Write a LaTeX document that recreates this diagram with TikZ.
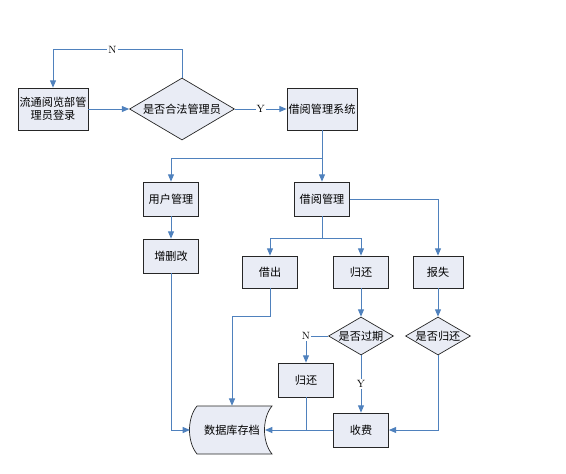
\documentclass[tikz,border=0pt]{standalone}
\usepackage{fontspec}
\newfontfamily\cjk{Noto Sans CJK SC}
\usetikzlibrary{arrows.meta, calc, shapes.geometric}
\definecolor{flowline}{HTML}{4F81BD}
\definecolor{boxfill}{HTML}{E9ECF5}

\begin{document}
\begin{tikzpicture}[x=0.03cm, y=-0.03cm, >={Triangle[length=2.2mm, width=1.8mm]},
  every node/.style={font=\cjk\fontsize{9.5pt}{11.5pt}\selectfont},
  box/.style={draw=black!85, fill=boxfill, line width=0.6pt, align=center, inner sep=1pt, minimum width=1.65cm, minimum height=1.02cm},
  decision/.style={diamond, shape aspect=1.7, draw=black!85, fill=boxfill, line width=0.6pt, inner sep=0pt, minimum width=1.95cm, minimum height=1.14cm},
  flow/.style={draw=flowline, line width=0.85pt},
  yn/.style={font=\rmfamily\fontsize{9pt}{10pt}\selectfont, fill=white, inner sep=1pt}]
  \useasboundingbox (0,0) rectangle (566,473);
  \node[box, minimum width=2.1cm, minimum height=1.26cm] (login) at (53,109) {流通阅览部管\\理员登录};
  \node[decision, minimum width=3.15cm, minimum height=1.86cm] (legal) at (182,109) {是否合法管理员};
  \node[box, minimum width=2.1cm, minimum height=1.26cm] (sys) at (322,109) {借阅管理系统};
  \node[box] (user) at (171,199) {用户管理};
  \node[box] (crud) at (171,256) {增删改};
  \node[box] (borrowmgr) at (322,199) {借阅管理};
  \node[box, minimum height=0.96cm] (lend) at (270,272) {借出};
  \node[box, minimum height=0.96cm] (ret) at (361,272) {归还};
  \node[box, minimum width=1.5cm, minimum height=0.96cm] (lost) at (438,272) {报失};
  \node[decision] (overdue) at (361,336) {是否过期};
  \node[decision] (returned) at (438,336) {是否归还};
  \node[box] (ret2) at (306,380) {归还};
  \node[box] (fee) at (361,430) {收费};
  % stored data shape
  \coordinate (dbc) at (232,430);
  \draw[draw=black!85, fill=boxfill, line width=0.6pt]
    ($(dbc)+(-35,-24)$) .. controls ($(dbc)+(-45,-12)$) and ($(dbc)+(-45,12)$) .. ($(dbc)+(-35,24)$)
    -- ($(dbc)+(40,24)$) .. controls ($(dbc)+(30,12)$) and ($(dbc)+(30,-12)$) .. ($(dbc)+(40,-24)$) -- cycle;
  \node[minimum width=2.04cm, minimum height=1.44cm, inner sep=0pt] (db) at (dbc) {数据库存档};
  \coordinate (dbleft) at ($(dbc)+(-42,0)$);
  \coordinate (dbright) at ($(dbc)+(33,0)$);
  % connectors
  \draw[flow, ->] (login) -- (legal);
  \draw[flow, ->] (legal) -- node[yn] {Y} (sys);
  \draw[flow, ->] (legal.north) -- ++(0,-28) -| node[yn, pos=0.27] {N} (login.north);
  \draw[flow, ->] (sys.south) -- ++(0,28) -| (user.north);
  \draw[flow, ->] (sys.south) -- (borrowmgr.north);
  \draw[flow, ->] (user) -- (crud);
  \draw[flow, ->] (borrowmgr.south) -- ++(0,22) -| (lend.north);
  \draw[flow, ->] (borrowmgr.south) -- ++(0,22) -| (ret.north);
  \draw[flow, ->] (borrowmgr.east) -| (lost.north);
  \draw[flow, ->] (ret) -- (overdue);
  \draw[flow, ->] (lost) -- (returned);
  \draw[flow, ->] (overdue.west) -| node[yn, pos=0.5] {N} (ret2.north);
  \draw[flow, ->] (overdue.south) -- node[yn] {Y} (fee.north);
  \draw[flow, ->] (returned.south) |- (fee.east);
  \draw[flow, ->] (fee.west) -- (dbright);
  \draw[flow] (ret2.south) -- (ret2.south |- fee.west);
  \draw[flow, ->] (crud.south) |- (dbleft);
  \draw[flow, ->] (lend.south) -- ++(0,28) -| (db.north);
\end{tikzpicture}
\end{document}
